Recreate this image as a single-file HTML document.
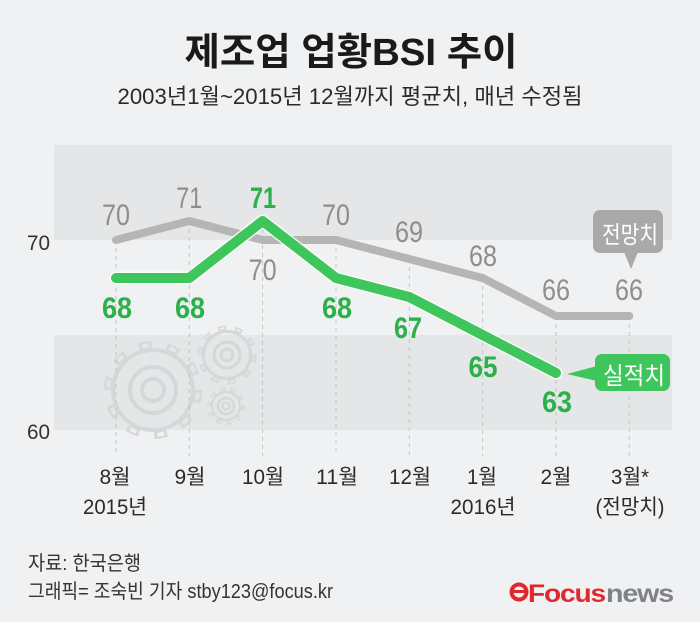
<!DOCTYPE html>
<html><head><meta charset="utf-8"><style>
html,body{margin:0;padding:0;background:#f0f1f2;}
svg{display:block;}
text{font-family:"Liberation Sans","Noto Sans CJK KR",sans-serif;}
</style></head><body>
<svg width="700" height="622" viewBox="0 0 700 622" xmlns="http://www.w3.org/2000/svg">
<defs>
  <mask id="g1" maskUnits="userSpaceOnUse" x="0" y="0" width="700" height="622">
    <circle cx="153" cy="390" r="42" fill="#fff"/>
    <circle cx="153" cy="390" r="45" fill="none" stroke="#fff" stroke-width="8" pathLength="100" stroke-dasharray="4.5 5.5"/>
    <circle cx="153" cy="390" r="38" fill="#000"/>
    <circle cx="153" cy="390" r="45" fill="none" stroke="#000" stroke-width="4" pathLength="100" stroke-dasharray="2.5 7.5" stroke-dashoffset="-1"/>
  </mask>
  <mask id="g2" maskUnits="userSpaceOnUse" x="0" y="0" width="700" height="622">
    <circle cx="227" cy="355" r="25" fill="#fff"/>
    <circle cx="227" cy="355" r="27" fill="none" stroke="#fff" stroke-width="5" pathLength="100" stroke-dasharray="4.5 5.5"/>
    <circle cx="227" cy="355" r="22" fill="#000"/>
    <circle cx="227" cy="355" r="27" fill="none" stroke="#000" stroke-width="2" pathLength="100" stroke-dasharray="2.5 7.5" stroke-dashoffset="-1"/>
  </mask>
  <mask id="g3" maskUnits="userSpaceOnUse" x="0" y="0" width="700" height="622">
    <circle cx="226" cy="406" r="15" fill="#fff"/>
    <circle cx="226" cy="406" r="17" fill="none" stroke="#fff" stroke-width="4" pathLength="100" stroke-dasharray="4.5 5.5"/>
    <circle cx="226" cy="406" r="13" fill="#000"/>
    <circle cx="226" cy="406" r="17" fill="none" stroke="#000" stroke-width="1.5" pathLength="100" stroke-dasharray="2.5 7.5" stroke-dashoffset="-1"/>
  </mask>
</defs>
<rect x="0" y="0" width="700" height="622" fill="#f0f1f2"/>
<!-- bands -->
<rect x="54" y="145" width="618" height="95" fill="#e4e6e7"/>
<rect x="54" y="335" width="618" height="95" fill="#e4e6e7"/>
<!-- gears -->
<rect x="0" y="0" width="700" height="622" fill="#d5d7d8" mask="url(#g1)"/>
<rect x="0" y="0" width="700" height="622" fill="#d5d7d8" mask="url(#g2)"/>
<rect x="0" y="0" width="700" height="622" fill="#d5d7d8" mask="url(#g3)"/>
<g fill="none" stroke="#d5d7d8">
  <circle cx="153" cy="390" r="23" stroke-width="4"/>
  <circle cx="153" cy="390" r="11" stroke-width="4"/>
  <circle cx="227" cy="355" r="13" stroke-width="3"/>
  <circle cx="227" cy="355" r="6" stroke-width="3"/>
  <circle cx="226" cy="406" r="8" stroke-width="2.5"/>
  <circle cx="226" cy="406" r="3.5" stroke-width="2"/>
</g>
<!-- dashed verticals -->
<g stroke="#c4c5c6" stroke-width="1" stroke-dasharray="4 4">
  <line x1="116" y1="240" x2="116" y2="456"/>
  <line x1="189.3" y1="221" x2="189.3" y2="456"/>
  <line x1="262.6" y1="221" x2="262.6" y2="456"/>
  <line x1="336" y1="240" x2="336" y2="456"/>
  <line x1="409.3" y1="259" x2="409.3" y2="456"/>
  <line x1="482.6" y1="278" x2="482.6" y2="456"/>
  <line x1="556" y1="316" x2="556" y2="456"/>
  <line x1="629.3" y1="316" x2="629.3" y2="456"/>
</g>
<!-- gray forecast line -->
<polyline points="116,240 189.3,221 262.6,240 336,240 409.3,259 482.6,278 556,316 629.3,316" fill="none" stroke="#b5b5b5" stroke-width="8" stroke-linejoin="round" stroke-linecap="round"/>
<!-- green actual line -->
<polyline points="116,278 189.3,278 262.6,221 336,278 409.3,297 482.6,335 556,373" fill="none" stroke="#ffffff" stroke-width="13" stroke-linejoin="round" stroke-linecap="round" opacity="0.8"/>
<polyline points="116,278 189.3,278 262.6,221 336,278 409.3,297 482.6,335 556,373" fill="none" stroke="#3ec65c" stroke-width="10" stroke-linejoin="round" stroke-linecap="round"/>
<!-- gray labels -->
<g fill="#8e8e8e" font-size="30" text-anchor="middle">
  <text x="116" y="225" textLength="28" lengthAdjust="spacingAndGlyphs">70</text>
  <text x="189.3" y="208" textLength="26" lengthAdjust="spacingAndGlyphs">71</text>
  <text x="262.6" y="280" textLength="28" lengthAdjust="spacingAndGlyphs">70</text>
  <text x="336" y="225" textLength="28" lengthAdjust="spacingAndGlyphs">70</text>
  <text x="409" y="242" textLength="28" lengthAdjust="spacingAndGlyphs">69</text>
  <text x="483" y="266" textLength="28" lengthAdjust="spacingAndGlyphs">68</text>
  <text x="556" y="300" textLength="28" lengthAdjust="spacingAndGlyphs">66</text>
  <text x="629" y="300" textLength="28" lengthAdjust="spacingAndGlyphs">66</text>
</g>
<!-- green labels -->
<g fill="#2bb04a" font-size="30" font-weight="bold" text-anchor="middle">
  <text x="117" y="318" textLength="30" lengthAdjust="spacingAndGlyphs">68</text>
  <text x="190" y="318" textLength="30" lengthAdjust="spacingAndGlyphs">68</text>
  <text x="263" y="208" textLength="26" lengthAdjust="spacingAndGlyphs">71</text>
  <text x="337" y="318" textLength="30" lengthAdjust="spacingAndGlyphs">68</text>
  <text x="408" y="338" textLength="28" lengthAdjust="spacingAndGlyphs">67</text>
  <text x="483" y="377" textLength="29" lengthAdjust="spacingAndGlyphs">65</text>
  <text x="557" y="412" textLength="30" lengthAdjust="spacingAndGlyphs">63</text>
</g>
<!-- callouts -->
<rect x="593" y="210" width="70" height="43" rx="7" fill="#a9a9a9"/>
<polygon points="624,252 638,252 631,269" fill="#a9a9a9"/>
<text x="630" y="243" font-size="24" fill="#ffffff" text-anchor="middle" textLength="56" lengthAdjust="spacingAndGlyphs" font-family="Noto Sans CJK KR, sans-serif">전망치</text>
<rect x="595" y="354" width="75" height="37" rx="7" fill="#3ec65c"/>
<polygon points="597,366 597,381 567,374" fill="#3ec65c"/>
<text x="634" y="384" font-size="24" fill="#ffffff" text-anchor="middle" textLength="62" lengthAdjust="spacingAndGlyphs" font-family="Noto Sans CJK KR, sans-serif">실적치</text>
<!-- y-axis labels -->
<g fill="#333333" font-size="21">
  <text x="27" y="250" textLength="23" lengthAdjust="spacingAndGlyphs">70</text>
  <text x="27" y="439" textLength="23" lengthAdjust="spacingAndGlyphs">60</text>
</g>
<!-- title -->
<text x="351" y="65" font-size="38" font-weight="bold" fill="#1a1a1a" text-anchor="middle" textLength="333" lengthAdjust="spacingAndGlyphs">제조업 업황BSI 추이</text>
<text x="350" y="104" font-size="22" fill="#2a2a2a" text-anchor="middle" textLength="465" lengthAdjust="spacingAndGlyphs">2003년1월~2015년 12월까지 평균치, 매년 수정됨</text>
<!-- x labels -->
<g fill="#2a2a2a" font-size="21" text-anchor="middle">
  <text x="115" y="484" textLength="31" lengthAdjust="spacingAndGlyphs">8월</text>
  <text x="190" y="484" textLength="31" lengthAdjust="spacingAndGlyphs">9월</text>
  <text x="263" y="484" textLength="42" lengthAdjust="spacingAndGlyphs">10월</text>
  <text x="337" y="484" textLength="42" lengthAdjust="spacingAndGlyphs">11월</text>
  <text x="410" y="484" textLength="42" lengthAdjust="spacingAndGlyphs">12월</text>
  <text x="482" y="484" textLength="30" lengthAdjust="spacingAndGlyphs">1월</text>
  <text x="556" y="484" textLength="31" lengthAdjust="spacingAndGlyphs">2월</text>
  <text x="630" y="484" textLength="38" lengthAdjust="spacingAndGlyphs">3월*</text>
  <text x="115" y="514" textLength="64" lengthAdjust="spacingAndGlyphs">2015년</text>
  <text x="483" y="514" textLength="65" lengthAdjust="spacingAndGlyphs">2016년</text>
  <text x="630" y="514" textLength="69" lengthAdjust="spacingAndGlyphs">(전망치)</text>
</g>
<!-- footer -->
<g fill="#333333" font-size="20">
  <text x="28" y="570" textLength="113" lengthAdjust="spacingAndGlyphs">자료: 한국은행</text>
  <text x="28" y="598" textLength="305" lengthAdjust="spacingAndGlyphs">그래픽= 조숙빈 기자 stby123@focus.kr</text>
</g>
<!-- logo -->
<g>
  <circle cx="519" cy="592" r="7.5" fill="none" stroke="#e0282e" stroke-width="4"/>
  <rect x="513" y="590" width="12" height="3" fill="#e0282e"/>
  <text x="528" y="602" font-size="25" font-weight="bold" fill="#e0282e" textLength="77" lengthAdjust="spacingAndGlyphs" letter-spacing="-1">Focus</text>
  <text x="606" y="602" font-size="25" font-weight="bold" fill="#808285" textLength="67" lengthAdjust="spacingAndGlyphs" letter-spacing="-1">news</text>
</g>
</svg>
</body></html>
